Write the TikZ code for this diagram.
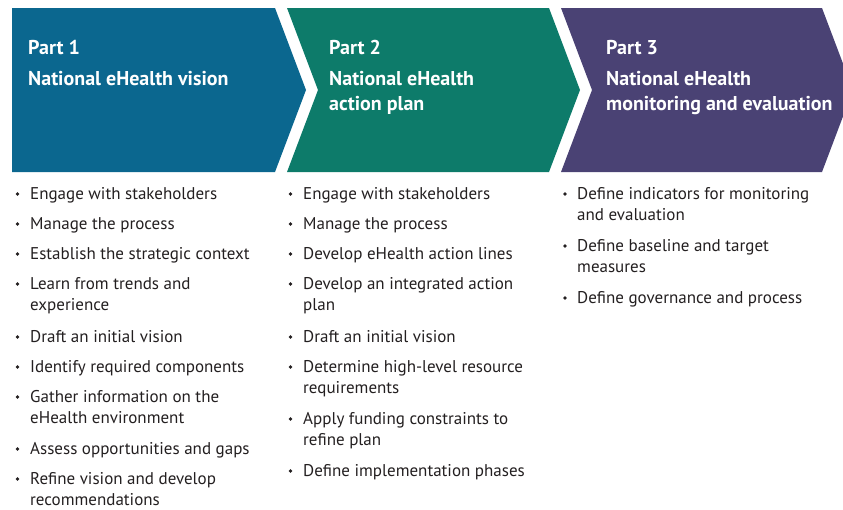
\documentclass[tikz,border=0pt]{standalone}
\usepackage{fontspec}
\setmainfont{PT Sans}
\definecolor{cblue}{HTML}{0B678F}
\definecolor{cteal}{HTML}{0D7B6A}
\definecolor{cpurp}{HTML}{4A4274}
\definecolor{ctext}{HTML}{231F20}
\newcommand{\mlines}[1]{{\let\\\cr\vtop{\halign{##\hfil\cr #1\crcr}}}}
\tikzset{
  head/.style={anchor=base west, inner sep=0pt, text=white, font=\fontsize{20}{25.5}\selectfont\bfseries},
  item/.style={anchor=base west, inner sep=0pt, text=ctext, font=\fontsize{17}{21.8}\selectfont},
  bul/.style={circle, fill=ctext, inner sep=0pt, minimum size=3.8pt},
}
\begin{document}
\begin{tikzpicture}[x=1pt,y=1pt]
\useasboundingbox (0,0) rectangle (843,-509);
\clip (0,0) rectangle (843,-509);
% chevrons
\fill[cblue] (12,-8) -- (275,-8) -- (306,-90) -- (275,-172) -- (12,-172) -- cycle;
\fill[cteal] (287,-8) -- (549,-8) -- (580,-90) -- (549,-172) -- (287,-172) -- (318,-90) -- cycle;
\fill[cpurp] (561,-8) -- (822,-8) -- (853,-90) -- (822,-172) -- (561,-172) -- (592,-90) -- cycle;
% headers
\node[head] (p1) at (28,-54) {Part 1};
\node[head] (t1) at (28,-85) {\mlines{National eHealth vision}};
\node[head] (p2) at (329,-54) {Part 2};
\node[head] (t2) at (329,-85) {\mlines{National eHealth\\action plan}};
\node[head] (p3) at (606,-54) {Part 3};
\node[head] (t3) at (606,-85) {\mlines{National eHealth\\monitoring and evaluation}};
% column 1
\foreach \y/\t [count=\i] in {199/{Engage with stakeholders},229/{Manage the process},259/{Establish the strategic context},289/{Learn from trends and\\experience},342/{Draft an initial vision},372/{Identify required components},402/{Gather information on the\\eHealth environment},454/{Assess opportunities and gaps},484/{Refine vision and develop\\recommendations}}{
  \node[bul] (ba\i) at (17.5,-\y+5) {};
  \node[item] (a\i) at (30,-\y) {\mlines{\t}};
}
% column 2
\foreach \y/\t [count=\i] in {199/{Engage with stakeholders},229/{Manage the process},259/{Develop eHealth action lines},289/{Develop an integrated action\\plan},342/{Draft an initial vision},372/{Determine high-level resource\\requirements},424/{Apply funding constraints to\\refine plan},476/{Define implementation phases}}{
  \node[bul] (bb\i) at (290.5,-\y+5) {};
  \node[item] (b\i) at (303,-\y) {\mlines{\t}};
}
% column 3
\foreach \y/\t [count=\i] in {199/{Define indicators for monitoring\\and evaluation},251/{Define baseline and target\\measures},303/{Define governance and process}}{
  \node[bul] (bc\i) at (565,-\y+5) {};
  \node[item] (c\i) at (577,-\y) {\mlines{\t}};
}
\end{tikzpicture}
\end{document}
